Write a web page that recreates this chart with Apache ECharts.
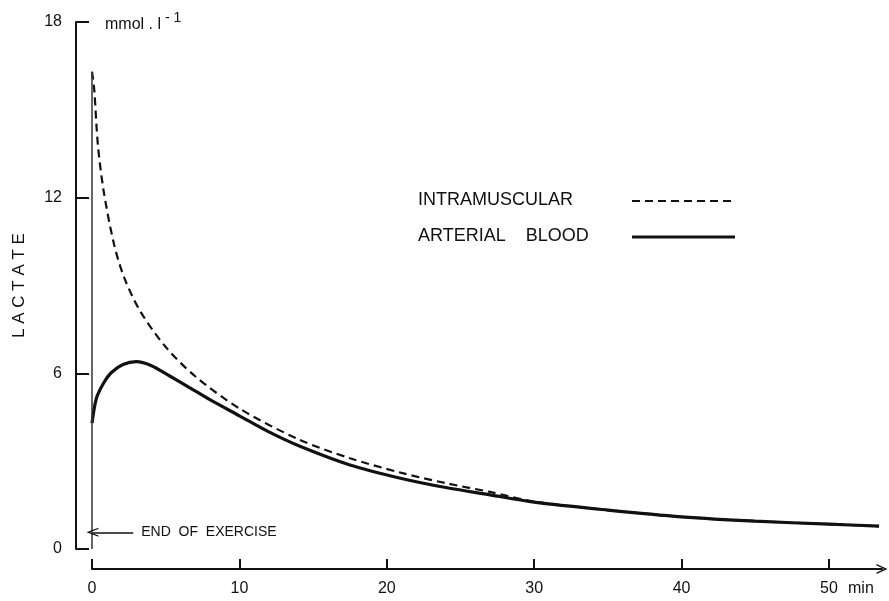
<!DOCTYPE html>
<html>
<head>
<meta charset="utf-8">
<script src="https://cdn.jsdelivr.net/npm/echarts@6/dist/echarts.min.js"></script>
<style>html,body{margin:0;padding:0;background:#fff;}#c{width:889px;height:601px;}</style>
</head>
<body>
<div id="c"></div>
<script>
// Data (time in min, lactate in mmol/l)
const imTime  = [0, 0.15, 0.4, 0.8, 1.5, 2.2, 3.3, 5, 7, 10, 14, 17.5, 21, 24, 27, 30, 35, 40, 45, 50, 53.4];
const imValue = [16.3, 15.7, 13.8, 12.2, 10.4, 9.25, 8.1, 6.9, 5.9, 4.8, 3.75, 3.1, 2.6, 2.25, 1.95, 1.62, 1.33, 1.1, 0.95, 0.85, 0.78];
const abTime  = [0, 0.3, 0.8, 1.3, 2.1, 3.0, 4.0, 5.3, 6.5, 8, 10, 12, 14.15, 17.5, 21, 24, 27, 30, 35, 40, 45, 50, 53.4];
const abValue = [4.3, 5.15, 5.68, 6.02, 6.3, 6.4, 6.27, 5.9, 5.55, 5.1, 4.55, 4.0, 3.5, 2.87, 2.41, 2.1, 1.85, 1.6, 1.33, 1.1, 0.95, 0.85, 0.78];
const exerciseEndLine = [[0, 16.3], [0, 0]];
const exerciseArrow = [[2.8, 0.57], [0.03, 0.57]];
const xTicks = [0, 10, 20, 30, 40, 50];
const yTicks = [0, 6, 12, 18];
const seriesNames = ['INTRAMUSCULAR', 'ARTERIAL    BLOOD'];

const zip = (a, b) => a.map((t, i) => [t, b[i]]);
const ink = '#111';
const font = 'Liberation Sans';
const openArrowUp = 'path://M5,0 L10,11 L8.6,11 L5,3.2 L1.4,11 L0,11 Z';

const chart = echarts.init(document.getElementById('c'), null, {renderer: 'canvas'});
chart.setOption({
  backgroundColor: '#fff',
  animation: false,
  grid: {left: 92, right: 7, top: 22, bottom: 52, containLabel: false, outerBoundsMode: 'none'},
  xAxis: {
    type: 'value', min: 0, max: 53.6, interval: 10, offset: 20,
    axisLine: {show: true, onZero: false, lineStyle: {color: ink, width: 2}, symbol: ['none', openArrowUp], symbolSize: [10, 13]},
    axisTick: {show: true, inside: true, length: 10, lineStyle: {color: ink, width: 2}, customValues: xTicks},
    axisLabel: {margin: 12, color: ink, fontSize: 16, fontFamily: font, customValues: xTicks},
    splitLine: {show: false}
  },
  yAxis: {
    type: 'value', min: 0, max: 18, interval: 6, offset: 16, position: 'left',
    name: 'L A C T A T E', nameLocation: 'middle', nameRotate: 90, nameGap: 48,
    nameTextStyle: {color: ink, fontSize: 17, fontFamily: font},
    axisLine: {show: true, onZero: false, lineStyle: {color: ink, width: 2}},
    axisTick: {show: true, inside: true, length: 13, lineStyle: {color: ink, width: 2}, customValues: yTicks},
    axisLabel: {margin: 14, color: ink, fontSize: 16, fontFamily: font, customValues: yTicks},
    splitLine: {show: false}
  },
  series: [
    {
      name: seriesNames[0], type: 'line', data: zip(imTime, imValue),
      smooth: 0.3, showSymbol: false, clip: false,
      lineStyle: {color: ink, width: 2.2, type: [8, 5]}
    },
    {
      name: seriesNames[1], type: 'line', data: zip(abTime, abValue),
      smooth: 0.3, showSymbol: false, clip: false,
      lineStyle: {color: ink, width: 3.2}
    },
    {
      name: 'end', type: 'line', data: exerciseEndLine, showSymbol: false, clip: false,
      lineStyle: {color: '#333', width: 1.5},
      markLine: {
        silent: true, symbol: ['none', openArrowUp], symbolSize: [9, 12],
        lineStyle: {color: ink, width: 1.5, type: 'solid'},
        label: {show: true, position: 'start', distance: 8, formatter: 'END  OF  EXERCISE',
                color: ink, fontSize: 14, fontFamily: font},
        data: [[{coord: exerciseArrow[0]}, {coord: exerciseArrow[1]}]]
      }
    }
  ],
  graphic: [
    {type: 'text', left: 105, top: 11, style: {
      text: '{a|mmol . l}{b|- 1}', fill: ink,
      rich: {a: {fontSize: 16, fontFamily: font, fill: ink, verticalAlign: 'bottom', lineHeight: 22},
             b: {fontSize: 14, fontFamily: font, fill: ink, verticalAlign: 'top', lineHeight: 22, padding: [0, 0, 9, 4]}}
    }},
    {type: 'text', left: 848, top: 581, style: {text: 'min', fill: ink, fontSize: 16, fontFamily: font}},
    {type: 'text', left: 418, top: 191, style: {text: seriesNames[0], fill: ink, fontSize: 18, fontFamily: font}},
    {type: 'text', left: 418, top: 227, style: {text: seriesNames[1], fill: ink, fontSize: 18, fontFamily: font}},
    {type: 'line', shape: {x1: 632, y1: 201, x2: 733, y2: 201}, style: {stroke: ink, lineWidth: 2, lineDash: [8, 5]}},
    {type: 'line', shape: {x1: 632, y1: 237, x2: 735, y2: 237}, style: {stroke: ink, lineWidth: 3}}
  ]
});
</script>
</body>
</html>
